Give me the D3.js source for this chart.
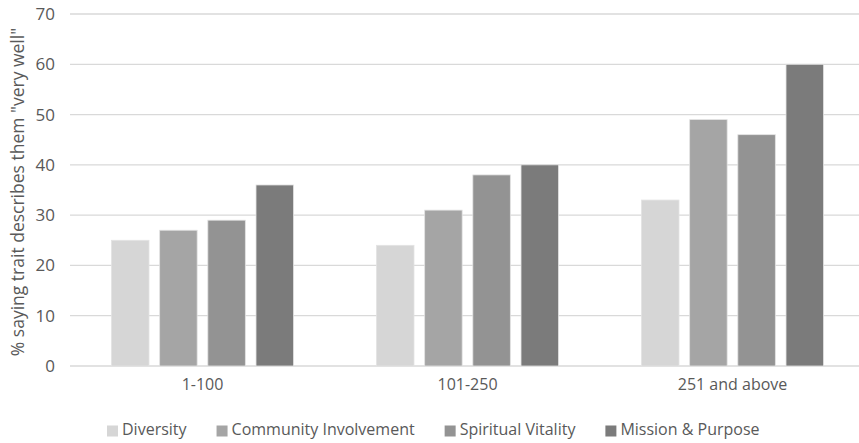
<!DOCTYPE html>
<html>
<head>
<meta charset="utf-8">
<script src="https://cdn.jsdelivr.net/npm/d3@7"></script>
<style>
  html, body { margin: 0; padding: 0; background: #ffffff; }
  svg { display: block; }
  text { font-family: "Open Sans", sans-serif; fill: #595959; }
</style>
</head>
<body>
<svg id="chart" width="859" height="443"></svg>
<script>
// Congregation size groups
const categories = ["1-100", "101-250", "251 and above"];

// Series names and their values (% saying trait describes them "very well")
const seriesNames = ["Diversity", "Community Involvement", "Spiritual Vitality", "Mission & Purpose"];
const diversity = [25, 24, 33];
const communityInvolvement = [27, 31, 49];
const spiritualVitality = [29, 38, 46];
const missionPurpose = [36, 40, 60];
const seriesValues = [diversity, communityInvolvement, spiritualVitality, missionPurpose];

const seriesColors = ["#d6d6d6", "#a5a5a5", "#939393", "#7b7b7b"];

// Y-axis ticks
const yTicks = [0, 10, 20, 30, 40, 50, 60, 70];
const yTitle = '% saying trait describes them "very well"';

const svg = d3.select("#chart");
const margin = { left: 70, right: -6, top: 14, bottom: 77 };
const W = 859, H = 443;

const x0 = d3.scaleBand()
  .domain(categories)
  .range([margin.left, W - margin.right])
  .paddingInner(0)
  .paddingOuter(0);

const groupPad = 41.5;
const x1 = d3.scaleBand()
  .domain(seriesNames)
  .range([groupPad, x0.bandwidth() - groupPad])
  .paddingInner(0.222)
  .paddingOuter(0);

const y = d3.scaleLinear()
  .domain([0, 70])
  .range([H - margin.bottom, margin.top]);

// Gridlines
svg.append("g")
  .selectAll("line")
  .data(yTicks)
  .join("line")
  .attr("x1", margin.left)
  .attr("x2", W)
  .attr("y1", d => y(d))
  .attr("y2", d => y(d))
  .attr("stroke", "#d9d9d9")
  .attr("stroke-width", 1.3);

// Y-axis tick labels
const yAxis = d3.axisLeft(y).tickValues(yTicks).tickSize(0).tickPadding(0);
const gy = svg.append("g")
  .attr("transform", `translate(${margin.left - 15},0)`)
  .call(yAxis);
gy.select(".domain").remove();
gy.selectAll("text")
  .attr("font-size", 17)
  .attr("font-family", "Open Sans, sans-serif")
  .attr("fill", "#595959");

// Y-axis title
svg.append("text")
  .attr("transform", `translate(19,${(y(0) + y(70)) / 2 + 2}) rotate(-90)`)
  .attr("text-anchor", "middle")
  .attr("dominant-baseline", "middle")
  .attr("font-size", 17.5)
  .text(yTitle);

// Bars
const groups = svg.append("g")
  .selectAll("g")
  .data(categories)
  .join("g")
  .attr("transform", d => `translate(${x0(d)},0)`);

groups.selectAll("rect")
  .data((c, i) => seriesNames.map((s, k) => ({ s, k, v: seriesValues[k][i] })))
  .join("rect")
  .attr("x", d => x1(d.s))
  .attr("width", x1.bandwidth())
  .attr("y", d => y(d.v))
  .attr("height", d => y(0) - y(d.v))
  .attr("fill", d => seriesColors[d.k])
  .attr("stroke", "#e3e3e3")
  .attr("stroke-width", 0.8);

// X-axis category labels
const xAxis = d3.axisBottom(x0).tickSize(0).tickPadding(0);
const gx = svg.append("g")
  .attr("transform", `translate(0,${y(0) + 13})`)
  .call(xAxis);
gx.select(".domain").remove();
gx.selectAll("text")
  .attr("font-size", 16)
  .attr("font-family", "Open Sans, sans-serif")
  .attr("fill", "#595959");

// Legend
const legend = svg.append("g").attr("transform", `translate(0,431)`);
const items = legend.selectAll("g")
  .data(seriesNames)
  .join("g");
items.append("rect")
  .attr("width", 11)
  .attr("height", 11)
  .attr("y", -5.5)
  .attr("fill", (d, i) => seriesColors[i]);
items.append("text")
  .attr("x", 15)
  .attr("dominant-baseline", "middle")
  .attr("font-size", 16)
  .text(d => d);

let cx = 107;
items.each(function () {
  const w = d3.select(this).select("text").node().getComputedTextLength();
  d3.select(this).attr("transform", `translate(${cx},0)`);
  cx += 15 + w + 30;
});
</script>
</body>
</html>
